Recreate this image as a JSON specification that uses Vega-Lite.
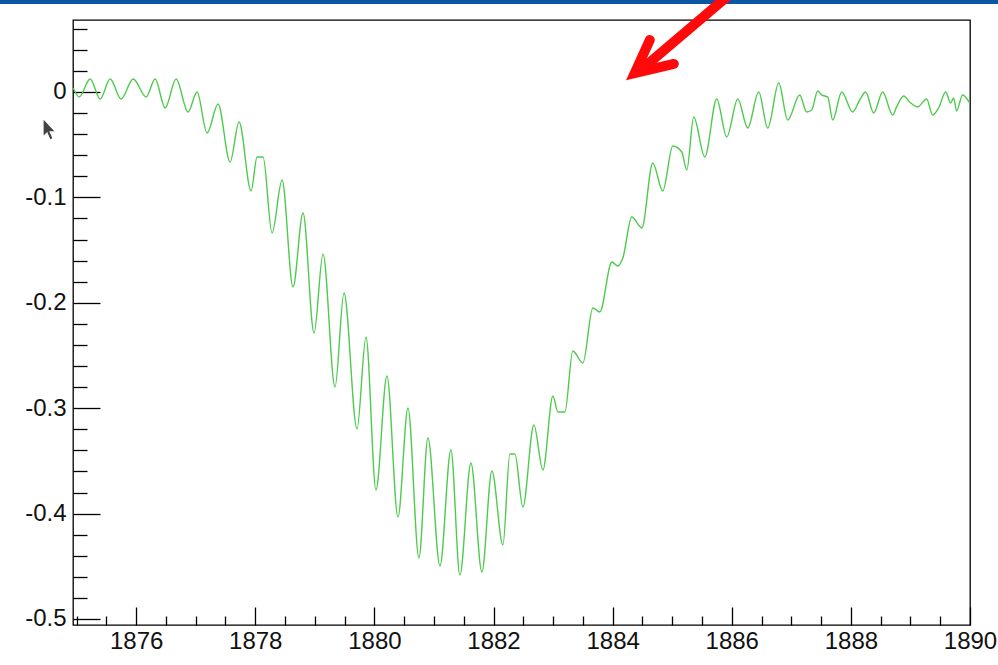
{
  "$schema": "https://vega.github.io/schema/vega-lite/v6.json",
  "width": 897,
  "height": 605,
  "autosize": {"type": "none"},
  "padding": {"left": 73, "top": 20, "right": 28, "bottom": 40},
  "background": "white",
  "config": {
    "view": {"stroke": "#000", "strokeWidth": 1.3},
    "axis": {"domain": false, "grid": false, "labelFont": "Liberation Sans", "labelFontSize": 24, "labelColor": "#111", "tickColor": "#000", "tickWidth": 1.3, "labelFlush": false, "labelOverlap": false, "labelBound": false}
  },
  "datasets": {
    "series": [
      {"year": 1874.945, "value": 0.0038}, {"year": 1875.044, "value": -0.0047}, {"year": 1875.228, "value": 0.0123},
      {"year": 1875.396, "value": -0.0066}, {"year": 1875.564, "value": 0.0123}, {"year": 1875.748, "value": -0.0066},
      {"year": 1875.950, "value": 0.0123}, {"year": 1876.168, "value": -0.0047}, {"year": 1876.319, "value": 0.0123},
      {"year": 1876.487, "value": -0.0152}, {"year": 1876.671, "value": 0.0123}, {"year": 1876.872, "value": -0.0190},
      {"year": 1877.023, "value": 0.0}, {"year": 1877.191, "value": -0.0389}, {"year": 1877.376, "value": -0.0114},
      {"year": 1877.577, "value": -0.0664}, {"year": 1877.728, "value": -0.0285}, {"year": 1877.930, "value": -0.0939},
      {"year": 1878.030, "value": -0.0617}, {"year": 1878.131, "value": -0.0617}, {"year": 1878.282, "value": -0.1338},
      {"year": 1878.450, "value": -0.0835}, {"year": 1878.634, "value": -0.1850}, {"year": 1878.802, "value": -0.1148},
      {"year": 1878.987, "value": -0.2287}, {"year": 1879.138, "value": -0.1537}, {"year": 1879.339, "value": -0.2799},
      {"year": 1879.490, "value": -0.1907}, {"year": 1879.708, "value": -0.3197}, {"year": 1879.859, "value": -0.2324},
      {"year": 1880.027, "value": -0.3776}, {"year": 1880.211, "value": -0.2694}, {"year": 1880.396, "value": -0.4032},
      {"year": 1880.564, "value": -0.2998}, {"year": 1880.748, "value": -0.4421}, {"year": 1880.899, "value": -0.3283},
      {"year": 1881.101, "value": -0.4497}, {"year": 1881.285, "value": -0.3397}, {"year": 1881.436, "value": -0.4583},
      {"year": 1881.621, "value": -0.3520}, {"year": 1881.805, "value": -0.4554}, {"year": 1881.973, "value": -0.3596},
      {"year": 1882.158, "value": -0.4298}, {"year": 1882.275, "value": -0.3435}, {"year": 1882.359, "value": -0.3435},
      {"year": 1882.493, "value": -0.3937}, {"year": 1882.678, "value": -0.3159}, {"year": 1882.829, "value": -0.3586},
      {"year": 1882.997, "value": -0.2884}, {"year": 1883.081, "value": -0.3036}, {"year": 1883.198, "value": -0.3036},
      {"year": 1883.332, "value": -0.2457}, {"year": 1883.500, "value": -0.2571}, {"year": 1883.668, "value": -0.2049},
      {"year": 1883.785, "value": -0.2087}, {"year": 1883.987, "value": -0.1613}, {"year": 1884.087, "value": -0.1651},
      {"year": 1884.171, "value": -0.1575}, {"year": 1884.322, "value": -0.1186}, {"year": 1884.490, "value": -0.1290},
      {"year": 1884.674, "value": -0.0674}, {"year": 1884.842, "value": -0.0939}, {"year": 1885.010, "value": -0.0512},
      {"year": 1885.161, "value": -0.0569}, {"year": 1885.245, "value": -0.0740}, {"year": 1885.362, "value": -0.0237},
      {"year": 1885.547, "value": -0.0617}, {"year": 1885.748, "value": -0.0066}, {"year": 1885.916, "value": -0.0427},
      {"year": 1886.101, "value": -0.0066}, {"year": 1886.268, "value": -0.0342}, {"year": 1886.453, "value": 0.0},
      {"year": 1886.604, "value": -0.0342}, {"year": 1886.789, "value": 0.0085}, {"year": 1886.940, "value": -0.0266},
      {"year": 1887.141, "value": -0.0028}, {"year": 1887.258, "value": -0.0190}, {"year": 1887.342, "value": -0.0171},
      {"year": 1887.443, "value": 0.0009}, {"year": 1887.510, "value": -0.0028}, {"year": 1887.611, "value": -0.0047},
      {"year": 1887.695, "value": -0.0266}, {"year": 1887.846, "value": 0.0}, {"year": 1888.030, "value": -0.0190},
      {"year": 1888.148, "value": -0.0076}, {"year": 1888.248, "value": 0.0}, {"year": 1888.383, "value": -0.0199},
      {"year": 1888.534, "value": 0.0}, {"year": 1888.701, "value": -0.0218}, {"year": 1888.768, "value": -0.0142},
      {"year": 1888.886, "value": -0.0038}, {"year": 1888.987, "value": -0.0095}, {"year": 1889.121, "value": -0.0142},
      {"year": 1889.272, "value": -0.0066}, {"year": 1889.372, "value": -0.0218}, {"year": 1889.473, "value": -0.0152},
      {"year": 1889.591, "value": 0.0}, {"year": 1889.674, "value": -0.0104}, {"year": 1889.725, "value": -0.0057},
      {"year": 1889.775, "value": -0.0180}, {"year": 1889.876, "value": -0.0028}, {"year": 1889.993, "value": -0.0104}
    ],
    "bar": [{"x1": 1873.5, "x2": 1890.7, "y1": 0.0835, "y2": 0.095}],
    "shaft": [{"year": 1885.916, "value": 0.0901, "i": 0}, {"year": 1884.473, "value": 0.0209, "i": 1}],
    "head": [{"year": 1884.624, "value": 0.0493, "i": 0}, {"year": 1884.372, "value": 0.0180, "i": 1}, {"year": 1885.027, "value": 0.0266, "i": 2}],
    "cursor": [{"year": 1874.55, "value": -0.036}]
  },
  "layer": [
    {
      "data": {"name": "series"},
      "mark": {"type": "line", "color": "#4ccb4c", "strokeWidth": 1.4, "interpolate": "monotone", "clip": true},
      "encoding": {
        "x": {"field": "year", "type": "quantitative", "scale": {"domain": [1874.94, 1890], "nice": false, "zero": false},
              "axis": {"orient": "bottom", "title": null, "values": [1876, 1878, 1880, 1882, 1884, 1886, 1888, 1890], "format": "d", "tickSize": -18, "labelPadding": 22}},
        "y": {"field": "value", "type": "quantitative", "scale": {"domain": [-0.5057, 0.0683], "nice": false, "zero": false},
              "axis": {"orient": "left", "title": null, "values": [-0.5, -0.4, -0.3, -0.2, -0.1, 0], "labelExpr": "toString(round(datum.value*10)/10)", "tickSize": -27, "labelPadding": 34}}
      }
    },
    {
      "data": {"name": "series"},
      "mark": {"type": "line", "opacity": 0},
      "encoding": {
        "x": {"field": "year", "type": "quantitative",
              "axis": {"orient": "bottom", "title": null, "labels": false, "tickSize": -9, "values": [1875, 1875.5, 1876.5, 1877, 1877.5, 1878.5, 1879, 1879.5, 1880.5, 1881, 1881.5, 1882.5, 1883, 1883.5, 1884.5, 1885, 1885.5, 1886.5, 1887, 1887.5, 1888.5, 1889, 1889.5]}},
        "y": {"field": "value", "type": "quantitative",
              "axis": {"orient": "left", "title": null, "labels": false, "tickSize": -14, "values": [-0.48, -0.46, -0.44, -0.42, -0.38, -0.36, -0.34, -0.32, -0.28, -0.26, -0.24, -0.22, -0.18, -0.16, -0.14, -0.12, -0.08, -0.06, -0.04, -0.02, 0.02, 0.04, 0.06]}}
      }
    },
    {
      "data": {"name": "bar"},
      "mark": {"type": "rect", "color": "#0b57a4", "clip": false},
      "encoding": {
        "x": {"field": "x1", "type": "quantitative", "axis": null},
        "x2": {"field": "x2"},
        "y": {"field": "y1", "type": "quantitative", "axis": null},
        "y2": {"field": "y2"}
      }
    },
    {
      "data": {"name": "shaft"},
      "mark": {"type": "line", "color": "#ff0a0a", "strokeWidth": 10, "strokeCap": "round", "clip": false},
      "encoding": {
        "x": {"field": "year", "type": "quantitative", "axis": null},
        "y": {"field": "value", "type": "quantitative", "axis": null},
        "order": {"field": "i"}
      }
    },
    {
      "data": {"name": "head"},
      "mark": {"type": "line", "color": "#ff0a0a", "strokeWidth": 10, "strokeCap": "round", "strokeJoin": "miter", "clip": false},
      "encoding": {
        "x": {"field": "year", "type": "quantitative", "axis": null},
        "y": {"field": "value", "type": "quantitative", "axis": null},
        "order": {"field": "i"}
      }
    },
    {
      "data": {"name": "cursor"},
      "mark": {"type": "point", "filled": true, "color": "#222", "opacity": 0.85, "size": 420, "clip": false,
               "shape": "M -0.6 -1 L -0.6 0.55 L -0.25 0.2 L 0.05 0.9 L 0.25 0.8 L -0.05 0.12 L 0.45 0.12 Z"},
      "encoding": {
        "x": {"field": "year", "type": "quantitative", "axis": null},
        "y": {"field": "value", "type": "quantitative", "axis": null}
      }
    }
  ],
  "resolve": {"axis": {"x": "independent", "y": "independent"}}
}
